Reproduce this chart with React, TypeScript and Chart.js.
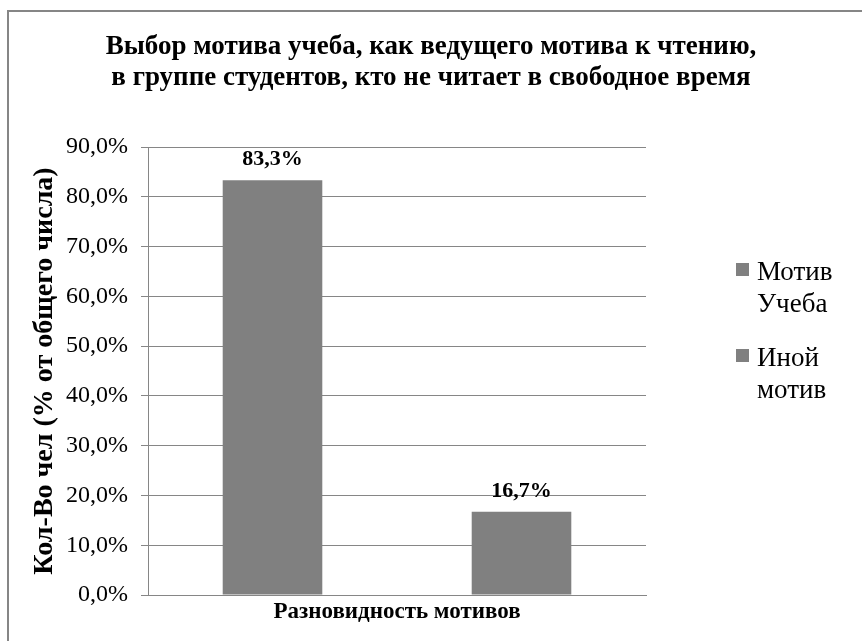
import React, { useEffect, useRef } from 'react';
import { Chart, registerables } from 'chart.js';

Chart.register(...registerables);

const TITLE_LINES = [
  'Выбор мотива учеба, как ведущего мотива к чтению,',
  'в группе студентов, кто не читает в свободное время',
];
const CATEGORIES = [''];
const SERIES_NAMES = ['Мотив Учеба', 'Иной мотив'];
const SERIES_VALUES = [[83.3], [16.7]];
const SERIES_COLORS = ['#808080', '#808080'];
const Y_MIN = 0;
const Y_MAX = 90;
const Y_STEP = 10;
const Y_TITLE = 'Кол-Во чел (% от общего числа)';
const X_TITLE = 'Разновидность мотивов';

const SERIF = '"Liberation Serif", "DejaVu Serif", serif';
const GRID = '#868686';

const fmtPct = (v: number) => v.toFixed(1).replace('.', ',') + '%';

const decorPlugin = {
  id: 'decor',
  beforeDraw(chart: any) {
    const ctx = chart.ctx;
    ctx.save();
    ctx.strokeStyle = GRID;
    ctx.lineWidth = 2;
    ctx.beginPath();
    ctx.moveTo(8, chart.height);
    ctx.lineTo(8, 11);
    ctx.lineTo(chart.width, 11);
    ctx.stroke();
    ctx.restore();
  },
  afterDraw(chart: any) {
    const ctx = chart.ctx;
    const area = chart.chartArea;
    ctx.save();
    ctx.font = `bold 22px ${SERIF}`;
    ctx.fillStyle = '#000';
    ctx.textAlign = 'center';
    ctx.textBaseline = 'middle';
    chart.data.datasets.forEach((ds: any, i: number) => {
      const meta = chart.getDatasetMeta(i);
      meta.data.forEach((el: any, j: number) => {
        ctx.fillText(fmtPct(ds.data[j]), el.x, el.y - 21);
      });
    });
    ctx.font = `27px ${SERIF}`;
    ctx.textAlign = 'left';
    const markerX = area.right + 90;
    const textX = area.right + 111;
    const firstY = 273;
    const lineGap = 32;
    const itemGap = 86;
    chart.data.datasets.forEach((ds: any, i: number) => {
      const y0 = firstY + i * itemGap;
      ctx.fillStyle = ds.backgroundColor;
      ctx.fillRect(markerX, y0 - 10, 13, 13);
      ctx.fillStyle = '#000';
      String(ds.label)
        .split(' ')
        .forEach((w: string, k: number) => ctx.fillText(w, textX, y0 + k * lineGap));
    });
    ctx.restore();
  },
};

export default function App() {
  const ref = useRef<HTMLCanvasElement>(null);
  useEffect(() => {
    let chart: any = null;
    let cancelled = false;
    const build = () => {
      if (cancelled || !ref.current) return;
      chart = new Chart(ref.current, {
        type: 'bar',
        data: {
          labels: CATEGORIES,
          datasets: SERIES_NAMES.map((name, i) => ({
            label: name,
            data: SERIES_VALUES[i],
            backgroundColor: SERIES_COLORS[i],
            borderWidth: 0,
            barPercentage: 0.4,
            categoryPercentage: 1.0,
          })),
        },
        options: {
          animation: false,
          responsive: false,
          devicePixelRatio: 1,
          layout: { padding: { left: 0, right: 0, top: 0, bottom: 0 } },
          plugins: {
            legend: { display: false },
            tooltip: { enabled: false },
            title: {
              display: true,
              text: TITLE_LINES,
              color: '#000',
              font: { family: SERIF, size: 27, weight: 'bold', lineHeight: 31 / 27 },
              padding: { top: 31.5, bottom: 53.5 },
            },
          },
          scales: {
            x: {
              grid: { display: false, drawTicks: false },
              border: { display: true, color: GRID },
              ticks: { display: false },
              title: {
                display: true,
                text: X_TITLE,
                color: '#000',
                font: { family: SERIF, size: 23, weight: 'bold', lineHeight: 1.2 },
                padding: { top: 0, bottom: 15 },
              },
              afterFit: (s: any) => {
                s.height = 46;
              },
            },
            y: {
              min: Y_MIN,
              max: Y_MAX,
              grid: { color: GRID, lineWidth: 1, tickLength: 7, drawTicks: true },
              border: { display: true, color: GRID },
              ticks: {
                stepSize: Y_STEP,
                padding: 13,
                color: '#000',
                font: { family: SERIF, size: 24 },
                callback: (v: any) => fmtPct(Number(v)),
              },
              title: {
                display: true,
                text: Y_TITLE,
                color: '#000',
                font: { family: SERIF, size: 28, weight: 'bold', lineHeight: 1.2 },
                padding: { top: 28, bottom: 0 },
              },
              afterFit: (s: any) => {
                s.width = 148;
              },
            },
            yLegendSpace: {
              position: 'right',
              display: true,
              grid: { display: false, drawTicks: false },
              border: { display: false },
              ticks: { display: false },
              afterFit: (s: any) => {
                s.width = 216;
              },
            },
          },
        } as any,
        plugins: [decorPlugin],
      });
    };
    const fonts: any = (document as any).fonts;
    if (fonts && fonts.load) {
      Promise.all([
        fonts.load(`24px "Liberation Serif"`),
        fonts.load(`bold 24px "Liberation Serif"`),
      ])
        .catch(() => null)
        .then(build);
    } else {
      build();
    }
    return () => {
      cancelled = true;
      if (chart) chart.destroy();
    };
  }, []);
  return (
    <div style={{ position: 'absolute', left: 0, top: 0, width: 862, height: 641 }}>
      <canvas ref={ref} width={862} height={641} style={{ display: 'block', width: 862, height: 641 }} />
    </div>
  );
}
